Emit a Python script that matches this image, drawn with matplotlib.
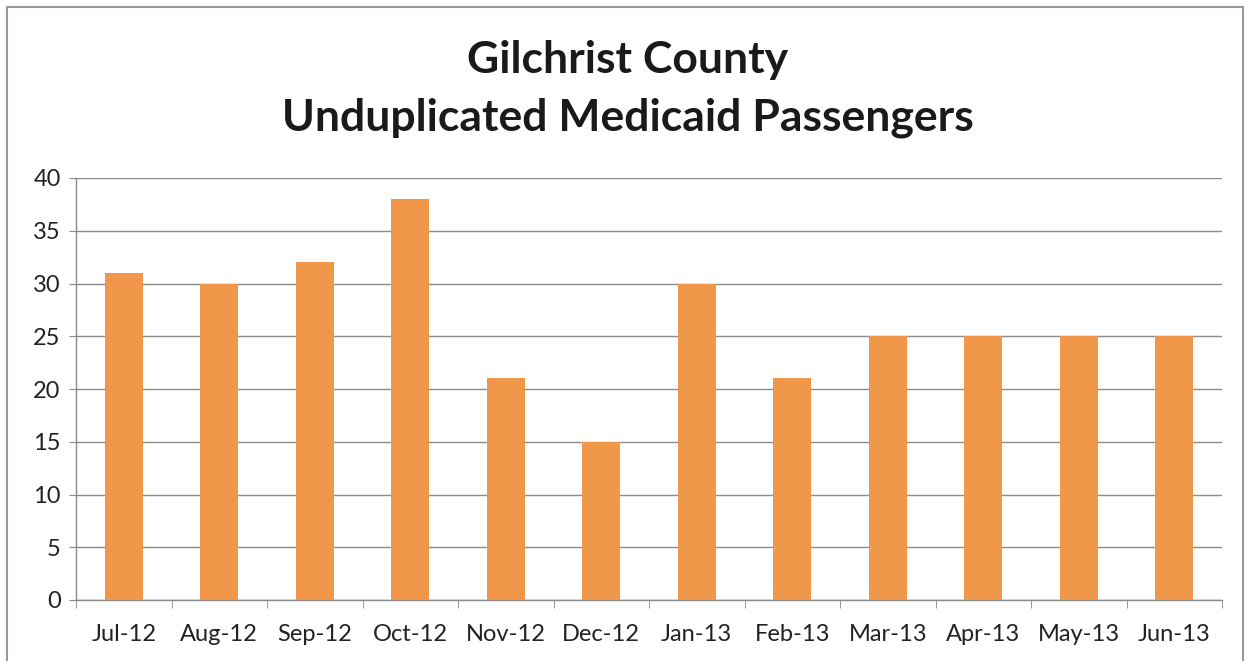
import matplotlib
matplotlib.use("Agg")
import matplotlib.pyplot as plt
from matplotlib.patches import Rectangle

months = ["Jul-12", "Aug-12", "Sep-12", "Oct-12", "Nov-12", "Dec-12",
          "Jan-13", "Feb-13", "Mar-13", "Apr-13", "May-13", "Jun-13"]
passengers = [31, 30, 32, 38, 21, 15, 30, 21, 25, 25, 25, 25]
yticks = [0, 5, 10, 15, 20, 25, 30, 35, 40]

plt.rcParams['font.family'] = ['Lato', 'DejaVu Sans']

W, H = 1250, 661
fig = plt.figure(figsize=(W/100, H/100), dpi=100)
ax = fig.add_axes([76/W, 1-600/H, (1222-76)/W, (600-178)/H])

x = list(range(len(months)))
ax.bar(x, passengers, width=0.4, color="#F0974A", zorder=3)
ax.set_xlim(-0.5, len(months)-0.5)
ax.set_ylim(0, 40)
ax.set_yticks(yticks)
ax.set_xticks(x)
ax.set_xticklabels(months, fontsize=17, color="#222222")
ax.tick_params(axis='y', labelsize=17, colors="#222222", length=5, color="#888888", pad=6)
ax.tick_params(axis='x', length=0, pad=17)
# minor ticks at category boundaries
ax.set_xticks([i - 0.5 for i in range(len(months)+1)], minor=True)
ax.tick_params(axis='x', which='minor', length=6, color="#888888")
ax.grid(axis='y', color="#8a8a8a", linewidth=1.0, zorder=0)
for s in ['top', 'right']:
    ax.spines[s].set_visible(False)
for s in ['left', 'bottom']:
    ax.spines[s].set_color("#8a8a8a")
    ax.spines[s].set_linewidth(1.0)

fig.text(628/W, 1-60/H, "Gilchrist County", ha='center', va='center',
         fontsize=32, fontweight='bold', color="#1a1a1a")
fig.text(628/W, 1-118/H, "Unduplicated Medicaid Passengers", ha='center', va='center',
         fontsize=32, fontweight='bold', color="#1a1a1a")

fig.patches.append(Rectangle((7/W, -0.01), (1243-7)/W, 1.0, transform=fig.transFigure,
                             fill=False, edgecolor="#9a9a9a", linewidth=1.5))

fig.savefig("out.png", dpi=100, facecolor="white")
